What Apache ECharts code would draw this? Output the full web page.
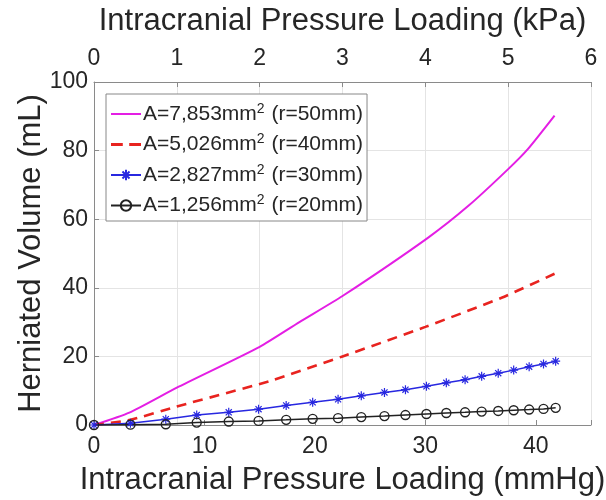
<!DOCTYPE html>
<html>
<head>
<meta charset="utf-8">
<script src="https://cdn.jsdelivr.net/npm/echarts@6/dist/echarts.min.js"></script>
<style>
  html, body { margin: 0; padding: 0; background: #fff; }
  #chart { width: 606px; height: 500px; }
</style>
</head>
<body>
<div id="chart"></div>
<script>
// pressure in mmHg, volume in mL
const xMagenta = [0, 3.2, 7.5, 15, 18.6, 22.5, 30.2, 33.9, 37.5, 39.3, 41.7];
const yMagenta = [0, 3.6, 10.9, 22.8, 30, 37.6, 54.5, 63.9, 74.6, 80.5, 90.2];

const xRed = [0, 3.3, 7.5, 15.9, 22.5, 30, 36.9, 41.7];
const yRed = [0, 1.5, 5.4, 12.8, 20, 28.6, 37.1, 44.1];

// marker positions shared by the two marked curves
const xMarks = [0, 3.3, 6.5, 9.3, 12.2, 14.9, 17.4, 19.8, 22.1, 24.2, 26.3,
  28.2, 30.1, 31.9, 33.6, 35.1, 36.6, 38.0, 39.4, 40.7, 41.8];
const yBlue = [0, 0.5, 1.7, 2.9, 3.7, 4.6, 5.7, 6.6, 7.5, 8.5, 9.5,
  10.3, 11.3, 12.3, 13.2, 14.2, 15.1, 16.0, 17.0, 17.8, 18.6];
const yBlack = [0, 0.1, 0.2, 0.7, 1.0, 1.2, 1.5, 1.8, 2.0, 2.3, 2.6,
  2.9, 3.2, 3.5, 3.7, 3.9, 4.1, 4.3, 4.5, 4.7, 5.0];

const names = [
  "A=7,853mm{s|2} (r=50mm)",
  "A=5,026mm{s|2} (r=40mm)",
  "A=2,827mm{s|2} (r=30mm)",
  "A=1,256mm{s|2} (r=20mm)"
];

const font = "Liberation Sans, Arial, sans-serif";
const textColor = "#262626";
const axisColor = "#8a8a8a";

const pairs = (xs, ys) => xs.map((x, i) => [x, ys[i]]);
const star = "path://M5,0L5,10M0,5L10,5M1.6,1.6L8.4,8.4M1.6,8.4L8.4,1.6";
// legend icons for the two curves without markers
const solidIcon = "path://M0,0H30V2H0Z";
const dashIcon = "path://M0,0H11V2.6H0Z M17,0H28V2.6H17Z";

const chart = echarts.init(document.getElementById("chart"));
chart.setOption({
  animation: false,
  grid: { left: 94, right: 15, top: 82, bottom: 75, outerBoundsMode: "none" },
  legend: {
    orient: "vertical",
    left: 106,
    top: 94,
    itemWidth: 30,
    itemHeight: 13,
    itemGap: 8,
    padding: [8, 4, 5, 4],
    backgroundColor: "#fff",
    borderColor: "#888",
    borderWidth: 1,
    textStyle: {
      fontFamily: font,
      fontSize: 21,
      color: textColor,
      padding: [0, 0, 0, -3],
      rich: {
        s: { fontSize: 14, fontFamily: font, color: textColor, verticalAlign: "top", padding: [0, 1, 10, 0] }
      }
    },
    data: [
      { name: names[0], icon: solidIcon },
      { name: names[1], icon: dashIcon },
      { name: names[2] },
      { name: names[3] }
    ]
  },
  xAxis: [
    {
      type: "value",
      position: "bottom",
      min: 0, max: 45, interval: 10,
      name: "Intracranial Pressure Loading (mmHg)",
      nameLocation: "middle",
      nameGap: 40,
      nameTextStyle: { fontFamily: font, fontSize: 31, color: textColor },
      axisLine: { show: true, lineStyle: { color: axisColor } },
      axisTick: { show: true, inside: true, length: 5, lineStyle: { color: axisColor } },
      axisLabel: { fontFamily: font, fontSize: 23, color: textColor, margin: 10,
        formatter: (v) => (v > 40 ? "" : v) },
      splitLine: { show: false }
    },
    {
      type: "value",
      position: "top",
      min: 0, max: 6, interval: 1,
      name: "Intracranial Pressure Loading (kPa)",
      nameLocation: "middle",
      nameGap: 45,
      nameTextStyle: { fontFamily: font, fontSize: 31, color: textColor },
      axisLine: { show: true, lineStyle: { color: axisColor } },
      axisTick: { show: true, inside: true, length: 5, lineStyle: { color: axisColor } },
      axisLabel: { fontFamily: font, fontSize: 23, color: textColor, margin: 12 },
      splitLine: { show: true, lineStyle: { color: "#e4e4e4" } }
    }
  ],
  yAxis: {
    type: "value",
    min: 0, max: 100, interval: 20,
    name: "Herniated Volume (mL)",
    nameLocation: "middle",
    nameGap: 47,
    nameMoveOverlap: false,
    nameTextStyle: { fontFamily: font, fontSize: 31, color: textColor },
    axisLine: { show: true, lineStyle: { color: axisColor } },
    axisTick: { show: true, inside: true, length: 5, lineStyle: { color: axisColor } },
    axisLabel: { fontFamily: font, fontSize: 23, color: textColor, margin: 6 },
    splitLine: { show: true, lineStyle: { color: "#e4e4e4" } }
  },
  series: [
    {
      name: names[0], type: "line", xAxisIndex: 0,
      data: pairs(xMagenta, yMagenta),
      smooth: 0.2, showSymbol: false,
      color: "#e41ee4",
      lineStyle: { color: "#e41ee4", width: 2 }
    },
    {
      name: names[1], type: "line", xAxisIndex: 0,
      data: pairs(xRed, yRed),
      smooth: 0.2, showSymbol: false,
      color: "#e8231f",
      lineStyle: { color: "#e8231f", width: 2.6, type: [10, 7] }
    },
    {
      name: names[2], type: "line", xAxisIndex: 0,
      data: pairs(xMarks, yBlue),
      symbol: star, symbolSize: 9, showAllSymbol: true,
      color: "#2828e0",
      itemStyle: { color: "#2828e0", borderColor: "#2828e0", borderWidth: 1.2 },
      lineStyle: { color: "#2828e0", width: 1.5 }
    },
    {
      name: names[3], type: "line", xAxisIndex: 0,
      data: pairs(xMarks, yBlack),
      symbol: "circle", symbolSize: 9, showAllSymbol: true,
      color: "#222",
      itemStyle: { color: "rgba(0,0,0,0)", borderColor: "#222", borderWidth: 1.4 },
      lineStyle: { color: "#222", width: 1.5 }
    }
  ]
});
</script>
</body>
</html>
